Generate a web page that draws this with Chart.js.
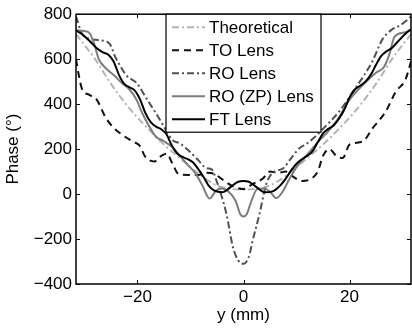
<!DOCTYPE html>
<html>
<head>
<meta charset="utf-8">
<script src="https://cdn.jsdelivr.net/npm/chart.js@4/dist/chart.umd.min.js"></script>
<style>
  html, body { margin: 0; padding: 0; background: #fff; }
  canvas { display: block; }
</style>
</head>
<body>
<canvas id="phaseChart" width="412" height="328" style="width:412px;height:328px"></canvas>
<script>
// data (y in mm, phase in degrees)
const xTicks = [-20, 0, 20];
const yTicks = [-400, -200, 0, 200, 400, 600, 800];

const theoY = [-31.6, -28, -25, -22, -20, -18, -15, -12, -9, -6, -4, -2, 0, 2, 4, 6, 9, 12, 15, 18, 20, 22, 25, 28, 31.6];
const theoP = [712, 600, 490, 395, 340, 290, 220, 160, 100, 50, 30, 22, 20, 22, 30, 50, 100, 160, 220, 290, 340, 395, 490, 600, 712];

const toY = [-31.6, -31, -30.5, -29, -27.7, -26, -24.5, -22.8, -21, -19.6, -18.5, -16.8, -15.5, -14.5, -13.4, -12.3, -10.5, -8.5, -7, -5.5, -4, -2, 0, 1.7, 3.6, 5, 6.5, 8, 9.5, 11, 12.5, 14, 15, 16.2, 17.5, 18.7, 20, 22.5, 24.3, 26.8, 28.7, 30.6, 31.6];
const toP = [600, 520, 470, 440, 420, 340, 295, 262, 235, 215, 165, 145, 170, 180, 135, 90, 85, 85, 95, 90, 65, 35, 22, 44, 68, 100, 95, 100, 75, 58, 65, 100, 170, 200, 170, 160, 220, 234, 291, 366, 454, 512, 590];

const roY = [-31.6, -30.5, -29, -27.5, -25.3, -24.2, -23, -22, -20.2, -18.3, -16.4, -15, -13.4, -12, -10.2, -8.5, -7, -6, -5.1, -4, -3.2, -2, -1, 0, 1, 1.7, 3, 4.3, 5.5, 6.5, 7.5, 9, 10.6, 12, 13.5, 15, 18, 21, 24.3, 26.2, 28, 29.5, 31, 31.6];
const roP = [790, 715, 690, 685, 670, 610, 560, 525, 495, 425, 355, 300, 240, 225, 190, 150, 115, 110, 60, -20, -90, -235, -295, -310, -280, -210, -90, 45, 95, 105, 115, 160, 205, 225, 255, 290, 366, 467, 590, 688, 732, 750, 776, 790];

const zpY = [-31.6, -30, -29, -28.2, -27.3, -26, -24.5, -23, -21.5, -20.2, -19, -17.5, -16.5, -15, -13.5, -12, -10.5, -9, -7.8, -6.4, -5.2, -4.2, -3, -1.5, -0.6, 0, 0.6, 1.5, 2.6, 4, 5, 6.2, 7.5, 8.5, 10, 12, 14, 16, 18, 20, 22.5, 25, 26.5, 27.5, 28.5, 30.5, 31.6];
const zpP = [728, 725, 715, 670, 600, 560, 530, 495, 465, 420, 355, 290, 255, 235, 210, 170, 130, 90, 40, -20, 15, 25, 15, -30, -90, -100, -90, -30, 22, 25, 10, -18, 15, 60, 120, 175, 230, 280, 340, 420, 485, 540, 565, 620, 700, 720, 730];

const ftY = [-31.6, -30.5, -29, -27.5, -26.5, -25.5, -24.5, -23.5, -22.5, -21.5, -20.5, -19.5, -18.5, -17.5, -16.5, -15.5, -14.5, -13.5, -12.5, -11.5, -10.5, -9.5, -8.5, -7.5, -6.5, -5.5, -4, -2.5, -1, 0, 1, 2.5, 4, 5.5, 7, 8, 9, 10, 11, 12, 13, 14, 15, 16, 17, 18, 19, 20, 21, 22, 23, 24, 25, 26, 27, 28, 29, 30.5, 31.6];
const ftP = [728, 712, 680, 645, 630, 620, 590, 530, 490, 475, 460, 420, 360, 320, 300, 288, 265, 215, 180, 165, 155, 140, 110, 75, 35, 15, 8, 30, 55, 58, 55, 30, 8, 12, 40, 70, 105, 135, 155, 170, 190, 230, 270, 290, 305, 335, 375, 430, 465, 482, 500, 530, 575, 615, 635, 650, 675, 712, 733];

const labels = ["Theoretical", "TO Lens", "RO Lens", "RO (ZP) Lens", "FT Lens"];

const fontFamily = "'Liberation Sans', Arial, Helvetica, sans-serif";
const font = { family: fontFamily, size: 17 };

function toPoints(xs, ys) {
    return xs.map((v, i) => ({ x: v, y: ys[i] }));
}

function fmt(v) {
    return String(v).replace("-", "\u2212");
}

const datasets = [
    { label: labels[0], data: toPoints(theoY, theoP), borderColor: "#b4b4b4", borderWidth: 2, borderDash: [7, 3, 2, 3], order: 5 },
    { label: labels[1], data: toPoints(toY, toP), borderColor: "#111111", borderWidth: 2, borderDash: [7, 5], order: 4 },
    { label: labels[2], data: toPoints(roY, roP), borderColor: "#505050", borderWidth: 2, borderDash: [7, 3, 2, 3], order: 3 },
    { label: labels[3], data: toPoints(zpY, zpP), borderColor: "#7c7c7c", borderWidth: 2, borderDash: [], order: 2 },
    { label: labels[4], data: toPoints(ftY, ftP), borderColor: "#000000", borderWidth: 2, borderDash: [], order: 1 }
];

// box, inward ticks and the legend, matlab style
const framePlugin = {
    id: "frame",
    afterDatasetsDraw(chart) {
        const ctx = chart.ctx;
        const a = chart.chartArea;
        const xs = chart.scales.x;
        const ys = chart.scales.y;
        ctx.save();
        ctx.strokeStyle = "#000";
        ctx.lineWidth = 1;
        ctx.setLineDash([]);
        ctx.beginPath();
        xTicks.forEach(v => {
            const px = Math.round(xs.getPixelForValue(v)) + 0.5;
            ctx.moveTo(px, a.bottom); ctx.lineTo(px, a.bottom - 4);
            ctx.moveTo(px, a.top); ctx.lineTo(px, a.top + 4);
        });
        yTicks.forEach(v => {
            const py = Math.round(ys.getPixelForValue(v)) + 0.5;
            ctx.moveTo(a.left, py); ctx.lineTo(a.left + 4, py);
            ctx.moveTo(a.right, py); ctx.lineTo(a.right - 4, py);
        });
        ctx.stroke();

        ctx.lineWidth = 1.5;
        ctx.strokeRect(a.left, a.top, a.right - a.left, a.bottom - a.top);

        // legend
        const lx = 166, ly = a.top, lw = 155, lh = 118;
        ctx.fillStyle = "#fff";
        ctx.fillRect(lx, ly, lw, lh);
        ctx.lineWidth = 1.2;
        ctx.strokeRect(lx, ly, lw, lh);
        ctx.font = "17px " + fontFamily;
        ctx.textBaseline = "middle";
        ctx.textAlign = "left";
        chart.data.datasets.forEach((ds, i) => {
            const rowY = ly + 13 + i * 23;
            ctx.beginPath();
            ctx.strokeStyle = ds.borderColor;
            ctx.lineWidth = ds.borderWidth;
            ctx.setLineDash(ds.borderDash);
            ctx.moveTo(lx + 6, rowY);
            ctx.lineTo(lx + 39, rowY);
            ctx.stroke();
            ctx.setLineDash([]);
            ctx.fillStyle = "#000";
            ctx.fillText(ds.label, lx + 43, rowY + 1);
        });
        ctx.restore();
    }
};

new Chart(document.getElementById("phaseChart"), {
    type: "line",
    data: { datasets: datasets },
    options: {
        responsive: false,
        animation: false,
        layout: { padding: { top: 12, right: 1, left: 0, bottom: 0 } },
        elements: {
            point: { radius: 0 },
            line: { cubicInterpolationMode: "monotone", fill: false }
        },
        plugins: {
            legend: { display: false },
            tooltip: { enabled: false }
        },
        scales: {
            x: {
                type: "linear",
                min: -31.6,
                max: 31.6,
                afterBuildTicks: s => { s.ticks = xTicks.map(v => ({ value: v })); },
                afterFit: s => { s.height = 44; },
                grid: { display: false, drawTicks: false },
                border: { display: false },
                ticks: { padding: 3, color: "#000", font: font, callback: v => fmt(v) },
                title: { display: true, text: "y (mm)", color: "#000", font: font, padding: { top: 0, bottom: 2 } }
            },
            y: {
                type: "linear",
                min: -400,
                max: 800,
                afterBuildTicks: s => { s.ticks = yTicks.map(v => ({ value: v })); },
                afterFit: s => { s.width = 76; },
                grid: { display: false, drawTicks: false },
                border: { display: false },
                ticks: { padding: 4, color: "#000", font: font, callback: v => fmt(v) },
                title: { display: true, text: "Phase (°)", color: "#000", font: font, padding: { top: 3, bottom: 0 } }
            }
        }
    },
    plugins: [framePlugin]
});
</script>
</body>
</html>
